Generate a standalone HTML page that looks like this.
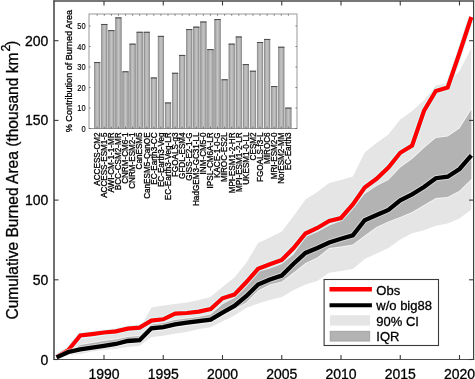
<!DOCTYPE html>
<html><head><meta charset="utf-8"><style>
html,body{margin:0;padding:0;background:#fff;}
svg{display:block;will-change:transform;}
text{font-family:"Liberation Sans",sans-serif;fill:#000;stroke:#000;stroke-width:0.3px;}
</style></head><body>
<svg width="475" height="379" viewBox="0 0 475 379">
<defs><linearGradient id="bg" x1="0" x2="1" y1="0" y2="0"><stop offset="0" stop-color="#959595"/><stop offset="0.25" stop-color="#b2b2b2"/><stop offset="0.5" stop-color="#c4c4c4"/><stop offset="0.75" stop-color="#b2b2b2"/><stop offset="1" stop-color="#959595"/></linearGradient></defs>
<defs><clipPath id="c"><rect x="54.0" y="1.0" width="419.6" height="358.5"/></clipPath></defs>
<g clip-path="url(#c)">
<polygon points="56.60,357.00 68.45,346.50 80.30,339.00 92.15,337.50 104.00,335.50 115.85,333.50 127.70,331.00 139.55,329.50 151.40,307.50 163.25,305.50 175.10,304.00 186.95,302.50 198.80,300.00 210.65,297.00 222.50,287.00 234.35,277.50 246.20,263.00 258.05,243.00 269.90,237.50 281.75,231.50 293.60,216.00 305.45,199.50 317.30,192.00 329.15,183.00 341.00,180.00 352.85,176.50 364.70,152.50 376.55,143.00 388.40,134.50 400.25,119.50 412.10,111.00 423.95,100.50 435.80,85.50 447.65,83.00 459.50,71.00 471.35,48.00 471.35,209.50 459.50,218.50 447.65,223.50 435.80,225.80 423.95,230.20 412.10,233.30 400.25,239.60 388.40,248.00 376.55,253.50 364.70,259.00 352.85,269.00 341.00,271.00 329.15,272.70 317.30,281.00 305.45,284.50 293.60,290.00 281.75,297.00 269.90,300.00 258.05,303.40 246.20,308.00 234.35,315.50 222.50,321.20 210.65,327.30 198.80,329.00 186.95,332.00 175.10,333.80 163.25,335.80 151.40,337.10 139.55,346.00 127.70,347.10 115.85,348.70 104.00,350.00 92.15,351.50 80.30,354.10 68.45,355.00 56.60,358.50" fill="#e5e5e5"/>
<polygon points="56.60,357.00 68.45,352.00 80.30,345.00 92.15,343.00 104.00,341.00 115.85,339.50 127.70,337.00 139.55,336.00 151.40,324.50 163.25,323.00 175.10,320.00 186.95,318.50 198.80,317.00 210.65,314.50 222.50,304.30 234.35,298.00 246.20,286.50 258.05,271.50 269.90,268.50 281.75,264.00 293.60,254.60 305.45,237.00 317.30,232.00 329.15,225.50 341.00,221.00 352.85,208.50 364.70,194.00 376.55,186.00 388.40,180.00 400.25,167.50 412.10,159.00 423.95,148.00 435.80,138.00 447.65,136.50 459.50,128.50 471.35,109.50 471.35,179.00 459.50,190.80 447.65,197.00 435.80,198.00 423.95,205.00 412.10,212.00 400.25,217.00 388.40,221.50 376.55,227.00 364.70,235.50 352.85,244.50 341.00,246.50 329.15,248.00 317.30,257.50 305.45,263.00 293.60,272.50 281.75,281.50 269.90,284.50 258.05,290.50 246.20,302.60 234.35,309.00 222.50,315.00 210.65,322.00 198.80,323.50 186.95,325.00 175.10,326.50 163.25,329.50 151.40,330.50 139.55,341.00 127.70,343.00 115.85,345.50 104.00,347.00 92.15,349.00 80.30,351.00 68.45,354.50 56.60,358.00" fill="none" stroke="#ffffff" stroke-opacity="0.6" stroke-width="1.8"/>
<polygon points="56.60,357.00 68.45,352.00 80.30,345.00 92.15,343.00 104.00,341.00 115.85,339.50 127.70,337.00 139.55,336.00 151.40,324.50 163.25,323.00 175.10,320.00 186.95,318.50 198.80,317.00 210.65,314.50 222.50,304.30 234.35,298.00 246.20,286.50 258.05,271.50 269.90,268.50 281.75,264.00 293.60,254.60 305.45,237.00 317.30,232.00 329.15,225.50 341.00,221.00 352.85,208.50 364.70,194.00 376.55,186.00 388.40,180.00 400.25,167.50 412.10,159.00 423.95,148.00 435.80,138.00 447.65,136.50 459.50,128.50 471.35,109.50 471.35,179.00 459.50,190.80 447.65,197.00 435.80,198.00 423.95,205.00 412.10,212.00 400.25,217.00 388.40,221.50 376.55,227.00 364.70,235.50 352.85,244.50 341.00,246.50 329.15,248.00 317.30,257.50 305.45,263.00 293.60,272.50 281.75,281.50 269.90,284.50 258.05,290.50 246.20,302.60 234.35,309.00 222.50,315.00 210.65,322.00 198.80,323.50 186.95,325.00 175.10,326.50 163.25,329.50 151.40,330.50 139.55,341.00 127.70,343.00 115.85,345.50 104.00,347.00 92.15,349.00 80.30,351.00 68.45,354.50 56.60,358.00" fill="#b3b3b3"/>
<polyline points="56.60,357.00 68.45,350.00 80.30,335.50 92.15,334.10 104.00,332.50 115.85,331.30 127.70,328.60 139.55,327.60 151.40,320.60 163.25,319.30 175.10,313.60 186.95,313.00 198.80,311.60 210.65,309.00 222.50,298.30 234.35,294.60 246.20,282.30 258.05,268.80 269.90,264.30 281.75,260.00 293.60,248.00 305.45,233.50 317.30,228.00 329.15,221.00 341.00,218.00 352.85,204.50 364.70,187.50 376.55,178.80 388.40,167.50 400.25,152.80 412.10,145.50 423.95,111.00 435.80,91.00 447.65,87.50 459.50,53.00 471.35,17.00" fill="none" stroke="#d4ffff" stroke-opacity="0.85" stroke-width="6.2" stroke-linejoin="miter"/>
<polyline points="56.60,357.00 68.45,350.00 80.30,335.50 92.15,334.10 104.00,332.50 115.85,331.30 127.70,328.60 139.55,327.60 151.40,320.60 163.25,319.30 175.10,313.60 186.95,313.00 198.80,311.60 210.65,309.00 222.50,298.30 234.35,294.60 246.20,282.30 258.05,268.80 269.90,264.30 281.75,260.00 293.60,248.00 305.45,233.50 317.30,228.00 329.15,221.00 341.00,218.00 352.85,204.50 364.70,187.50 376.55,178.80 388.40,167.50 400.25,152.80 412.10,145.50 423.95,111.00 435.80,91.00 447.65,87.50 459.50,53.00 471.35,17.00" fill="none" stroke="#ff0000" stroke-width="4.2" stroke-linejoin="miter"/>
<polyline points="56.60,357.40 68.45,352.00 80.30,349.40 92.15,347.70 104.00,345.80 115.85,344.00 127.70,341.00 139.55,340.20 151.40,328.30 163.25,327.20 175.10,324.40 186.95,322.70 198.80,321.20 210.65,319.60 222.50,312.70 234.35,305.90 246.20,296.20 258.05,284.50 269.90,279.50 281.75,275.50 293.60,263.70 305.45,252.90 317.30,248.00 329.15,242.50 341.00,238.70 352.85,235.30 364.70,220.20 376.55,215.00 388.40,209.90 400.25,200.30 412.10,194.30 423.95,187.00 435.80,178.20 447.65,176.70 459.50,169.00 471.35,155.40" fill="none" stroke="#ffffff" stroke-opacity="0.45" stroke-width="6.2" stroke-linejoin="miter"/>
<polyline points="56.60,357.40 68.45,352.00 80.30,349.40 92.15,347.70 104.00,345.80 115.85,344.00 127.70,341.00 139.55,340.20 151.40,328.30 163.25,327.20 175.10,324.40 186.95,322.70 198.80,321.20 210.65,319.60 222.50,312.70 234.35,305.90 246.20,296.20 258.05,284.50 269.90,279.50 281.75,275.50 293.60,263.70 305.45,252.90 317.30,248.00 329.15,242.50 341.00,238.70 352.85,235.30 364.70,220.20 376.55,215.00 388.40,209.90 400.25,200.30 412.10,194.30 423.95,187.00 435.80,178.20 447.65,176.70 459.50,169.00 471.35,155.40" fill="none" stroke="#000" stroke-width="4.3" stroke-linejoin="miter"/>
</g>
<line x1="54.0" y1="0.5" x2="54.0" y2="360.0" stroke="#404040" stroke-width="1.5"/>
<line x1="473.6" y1="0.5" x2="473.6" y2="360.0" stroke="#404040" stroke-width="1.2"/>
<line x1="53.3" y1="1.1" x2="474.20000000000005" y2="1.1" stroke="#4a4a4a" stroke-width="1.5"/>
<line x1="53.3" y1="359.5" x2="474.20000000000005" y2="359.5" stroke="#505050" stroke-width="1.0"/>
<line x1="104.00" y1="359.5" x2="104.00" y2="355.0" stroke="#3a3a3a" stroke-width="1.1"/>
<line x1="104.00" y1="1.0" x2="104.00" y2="5.5" stroke="#3a3a3a" stroke-width="1.1"/>
<text x="104.00" y="378.8" font-size="14" text-anchor="middle">1990</text>
<line x1="163.25" y1="359.5" x2="163.25" y2="355.0" stroke="#3a3a3a" stroke-width="1.1"/>
<line x1="163.25" y1="1.0" x2="163.25" y2="5.5" stroke="#3a3a3a" stroke-width="1.1"/>
<text x="163.25" y="378.8" font-size="14" text-anchor="middle">1995</text>
<line x1="222.50" y1="359.5" x2="222.50" y2="355.0" stroke="#3a3a3a" stroke-width="1.1"/>
<line x1="222.50" y1="1.0" x2="222.50" y2="5.5" stroke="#3a3a3a" stroke-width="1.1"/>
<text x="222.50" y="378.8" font-size="14" text-anchor="middle">2000</text>
<line x1="281.75" y1="359.5" x2="281.75" y2="355.0" stroke="#3a3a3a" stroke-width="1.1"/>
<line x1="281.75" y1="1.0" x2="281.75" y2="5.5" stroke="#3a3a3a" stroke-width="1.1"/>
<text x="281.75" y="378.8" font-size="14" text-anchor="middle">2005</text>
<line x1="341.00" y1="359.5" x2="341.00" y2="355.0" stroke="#3a3a3a" stroke-width="1.1"/>
<line x1="341.00" y1="1.0" x2="341.00" y2="5.5" stroke="#3a3a3a" stroke-width="1.1"/>
<text x="341.00" y="378.8" font-size="14" text-anchor="middle">2010</text>
<line x1="400.25" y1="359.5" x2="400.25" y2="355.0" stroke="#3a3a3a" stroke-width="1.1"/>
<line x1="400.25" y1="1.0" x2="400.25" y2="5.5" stroke="#3a3a3a" stroke-width="1.1"/>
<text x="400.25" y="378.8" font-size="14" text-anchor="middle">2015</text>
<line x1="459.50" y1="359.5" x2="459.50" y2="355.0" stroke="#3a3a3a" stroke-width="1.1"/>
<line x1="459.50" y1="1.0" x2="459.50" y2="5.5" stroke="#3a3a3a" stroke-width="1.1"/>
<text x="459.50" y="378.8" font-size="14" text-anchor="middle">2020</text>
<line x1="54.0" y1="359.50" x2="58.5" y2="359.50" stroke="#3a3a3a" stroke-width="1.1"/>
<line x1="473.6" y1="359.50" x2="469.1" y2="359.50" stroke="#3a3a3a" stroke-width="1.1"/>
<text x="48.3" y="364.50" font-size="14" text-anchor="end">0</text>
<line x1="54.0" y1="279.80" x2="58.5" y2="279.80" stroke="#3a3a3a" stroke-width="1.1"/>
<line x1="473.6" y1="279.80" x2="469.1" y2="279.80" stroke="#3a3a3a" stroke-width="1.1"/>
<text x="48.3" y="284.80" font-size="14" text-anchor="end">50</text>
<line x1="54.0" y1="200.10" x2="58.5" y2="200.10" stroke="#3a3a3a" stroke-width="1.1"/>
<line x1="473.6" y1="200.10" x2="469.1" y2="200.10" stroke="#3a3a3a" stroke-width="1.1"/>
<text x="48.3" y="205.10" font-size="14" text-anchor="end">100</text>
<line x1="54.0" y1="120.40" x2="58.5" y2="120.40" stroke="#3a3a3a" stroke-width="1.1"/>
<line x1="473.6" y1="120.40" x2="469.1" y2="120.40" stroke="#3a3a3a" stroke-width="1.1"/>
<text x="48.3" y="125.40" font-size="14" text-anchor="end">150</text>
<line x1="54.0" y1="40.70" x2="58.5" y2="40.70" stroke="#3a3a3a" stroke-width="1.1"/>
<line x1="473.6" y1="40.70" x2="469.1" y2="40.70" stroke="#3a3a3a" stroke-width="1.1"/>
<text x="48.3" y="45.70" font-size="14" text-anchor="end">200</text>
<text transform="translate(17.6,319.6) rotate(-90)" font-size="16.3" textLength="267" lengthAdjust="spacingAndGlyphs">Cumulative Burned Area (thousand km</text>
<text transform="translate(9.9,51.6) rotate(-90)" font-size="12.3">2</text>
<text transform="translate(16.8,46.1) rotate(-90)" font-size="16">)</text>
<rect x="324.1" y="279.5" width="114.39999999999998" height="66.0" fill="#fff" stroke="#3a3a3a" stroke-width="1.1"/>
<line x1="329.5" y1="289.3" x2="371.9" y2="289.3" stroke="#ff0000" stroke-width="4.4"/>
<line x1="329.5" y1="305.2" x2="371.9" y2="305.2" stroke="#000" stroke-width="4.0"/>
<rect x="329.9" y="315.2" width="40.1" height="10.4" fill="#e5e5e5"/>
<rect x="330.1" y="331.2" width="39.7" height="9.9" fill="#b3b3b3" stroke="#9a9a9a" stroke-width="0.7"/>
<text x="376.3" y="294.60" font-size="13">Obs</text>
<text x="376.3" y="310.20" font-size="13">w/o big88</text>
<text x="376.3" y="325.80" font-size="13">90% CI</text>
<text x="376.3" y="341.40" font-size="13">IQR</text>
<rect x="89.0" y="14.0" width="208.0" height="114.5" fill="#fff" stroke="#8f8f8f" stroke-width="0.9"/>
<rect x="94.40" y="62.49" width="5.6" height="66.01" fill="url(#bg)" stroke="#7a7a7a" stroke-width="0.6"/>
<line x1="94.10" y1="62.59" x2="100.30" y2="62.59" stroke="#4a4a4a" stroke-width="1"/>
<line x1="97.20" y1="14.0" x2="97.20" y2="15.8" stroke="#555" stroke-width="0.7"/>
<line x1="97.20" y1="128.5" x2="97.20" y2="126.7" stroke="#555" stroke-width="0.7"/>
<text transform="translate(100.00,132.4) rotate(-90)" font-size="8.15" text-anchor="end">ACCESS-CM2</text>
<rect x="101.48" y="24.36" width="5.6" height="104.14" fill="url(#bg)" stroke="#7a7a7a" stroke-width="0.6"/>
<line x1="101.18" y1="24.46" x2="107.38" y2="24.46" stroke="#4a4a4a" stroke-width="1"/>
<line x1="104.28" y1="14.0" x2="104.28" y2="15.8" stroke="#555" stroke-width="0.7"/>
<line x1="104.28" y1="128.5" x2="104.28" y2="126.7" stroke="#555" stroke-width="0.7"/>
<text transform="translate(107.08,132.4) rotate(-90)" font-size="8.15" text-anchor="end">ACCESS-ESM1-5</text>
<rect x="108.56" y="30.51" width="5.6" height="97.99" fill="url(#bg)" stroke="#7a7a7a" stroke-width="0.6"/>
<line x1="108.26" y1="30.61" x2="114.46" y2="30.61" stroke="#4a4a4a" stroke-width="1"/>
<line x1="111.36" y1="14.0" x2="111.36" y2="15.8" stroke="#555" stroke-width="0.7"/>
<line x1="111.36" y1="128.5" x2="111.36" y2="126.7" stroke="#555" stroke-width="0.7"/>
<text transform="translate(114.16,132.4) rotate(-90)" font-size="8.15" text-anchor="end">AWI-CM-1-1-MR</text>
<rect x="115.64" y="17.80" width="5.6" height="110.70" fill="url(#bg)" stroke="#7a7a7a" stroke-width="0.6"/>
<line x1="115.34" y1="17.90" x2="121.54" y2="17.90" stroke="#4a4a4a" stroke-width="1"/>
<line x1="118.44" y1="14.0" x2="118.44" y2="15.8" stroke="#555" stroke-width="0.7"/>
<line x1="118.44" y1="128.5" x2="118.44" y2="126.7" stroke="#555" stroke-width="0.7"/>
<text transform="translate(121.24,132.4) rotate(-90)" font-size="8.15" text-anchor="end">BCC-CSM2-MR</text>
<rect x="122.72" y="71.72" width="5.6" height="56.78" fill="url(#bg)" stroke="#7a7a7a" stroke-width="0.6"/>
<line x1="122.42" y1="71.81" x2="128.62" y2="71.81" stroke="#4a4a4a" stroke-width="1"/>
<line x1="125.52" y1="14.0" x2="125.52" y2="15.8" stroke="#555" stroke-width="0.7"/>
<line x1="125.52" y1="128.5" x2="125.52" y2="126.7" stroke="#555" stroke-width="0.7"/>
<text transform="translate(128.32,132.4) rotate(-90)" font-size="8.15" text-anchor="end">CNRM-CM6-1</text>
<rect x="129.80" y="44.04" width="5.6" height="84.46" fill="url(#bg)" stroke="#7a7a7a" stroke-width="0.6"/>
<line x1="129.50" y1="44.14" x2="135.70" y2="44.14" stroke="#4a4a4a" stroke-width="1"/>
<line x1="132.60" y1="14.0" x2="132.60" y2="15.8" stroke="#555" stroke-width="0.7"/>
<line x1="132.60" y1="128.5" x2="132.60" y2="126.7" stroke="#555" stroke-width="0.7"/>
<text transform="translate(135.40,132.4) rotate(-90)" font-size="8.15" text-anchor="end">CNRM-ESM2-1</text>
<rect x="136.88" y="32.15" width="5.6" height="96.35" fill="url(#bg)" stroke="#7a7a7a" stroke-width="0.6"/>
<line x1="136.58" y1="32.25" x2="142.78" y2="32.25" stroke="#4a4a4a" stroke-width="1"/>
<line x1="139.68" y1="14.0" x2="139.68" y2="15.8" stroke="#555" stroke-width="0.7"/>
<line x1="139.68" y1="128.5" x2="139.68" y2="126.7" stroke="#555" stroke-width="0.7"/>
<text transform="translate(142.48,132.4) rotate(-90)" font-size="8.15" text-anchor="end">CanESM5</text>
<rect x="143.96" y="32.15" width="5.6" height="96.35" fill="url(#bg)" stroke="#7a7a7a" stroke-width="0.6"/>
<line x1="143.66" y1="32.25" x2="149.86" y2="32.25" stroke="#4a4a4a" stroke-width="1"/>
<line x1="146.76" y1="14.0" x2="146.76" y2="15.8" stroke="#555" stroke-width="0.7"/>
<line x1="146.76" y1="128.5" x2="146.76" y2="126.7" stroke="#555" stroke-width="0.7"/>
<text transform="translate(149.56,132.4) rotate(-90)" font-size="8.15" text-anchor="end">CanESM5-CanOE</text>
<rect x="151.04" y="77.87" width="5.6" height="50.63" fill="url(#bg)" stroke="#7a7a7a" stroke-width="0.6"/>
<line x1="150.74" y1="77.97" x2="156.94" y2="77.97" stroke="#4a4a4a" stroke-width="1"/>
<line x1="153.84" y1="14.0" x2="153.84" y2="15.8" stroke="#555" stroke-width="0.7"/>
<line x1="153.84" y1="128.5" x2="153.84" y2="126.7" stroke="#555" stroke-width="0.7"/>
<text transform="translate(156.64,132.4) rotate(-90)" font-size="8.15" text-anchor="end">EC-Earth3-CC</text>
<rect x="158.12" y="36.25" width="5.6" height="92.25" fill="url(#bg)" stroke="#7a7a7a" stroke-width="0.6"/>
<line x1="157.82" y1="36.35" x2="164.02" y2="36.35" stroke="#4a4a4a" stroke-width="1"/>
<line x1="160.92" y1="14.0" x2="160.92" y2="15.8" stroke="#555" stroke-width="0.7"/>
<line x1="160.92" y1="128.5" x2="160.92" y2="126.7" stroke="#555" stroke-width="0.7"/>
<text transform="translate(163.72,132.4) rotate(-90)" font-size="8.15" text-anchor="end">EC-Earth3-Veg</text>
<rect x="165.20" y="102.88" width="5.6" height="25.62" fill="url(#bg)" stroke="#7a7a7a" stroke-width="0.6"/>
<line x1="164.90" y1="102.97" x2="171.10" y2="102.97" stroke="#4a4a4a" stroke-width="1"/>
<line x1="168.00" y1="14.0" x2="168.00" y2="15.8" stroke="#555" stroke-width="0.7"/>
<line x1="168.00" y1="128.5" x2="168.00" y2="126.7" stroke="#555" stroke-width="0.7"/>
<text transform="translate(170.80,132.4) rotate(-90)" font-size="8.15" text-anchor="end">EC-Earth3-Veg-LR</text>
<rect x="172.28" y="73.15" width="5.6" height="55.35" fill="url(#bg)" stroke="#7a7a7a" stroke-width="0.6"/>
<line x1="171.98" y1="73.25" x2="178.18" y2="73.25" stroke="#4a4a4a" stroke-width="1"/>
<line x1="175.08" y1="14.0" x2="175.08" y2="15.8" stroke="#555" stroke-width="0.7"/>
<line x1="175.08" y1="128.5" x2="175.08" y2="126.7" stroke="#555" stroke-width="0.7"/>
<text transform="translate(177.88,132.4) rotate(-90)" font-size="8.15" text-anchor="end">FGOALS-g3</text>
<rect x="179.36" y="55.31" width="5.6" height="73.19" fill="url(#bg)" stroke="#7a7a7a" stroke-width="0.6"/>
<line x1="179.06" y1="55.41" x2="185.26" y2="55.41" stroke="#4a4a4a" stroke-width="1"/>
<line x1="182.16" y1="14.0" x2="182.16" y2="15.8" stroke="#555" stroke-width="0.7"/>
<line x1="182.16" y1="128.5" x2="182.16" y2="126.7" stroke="#555" stroke-width="0.7"/>
<text transform="translate(184.96,132.4) rotate(-90)" font-size="8.15" text-anchor="end">GFDL-ESM4</text>
<rect x="186.44" y="29.49" width="5.6" height="99.01" fill="url(#bg)" stroke="#7a7a7a" stroke-width="0.6"/>
<line x1="186.14" y1="29.59" x2="192.34" y2="29.59" stroke="#4a4a4a" stroke-width="1"/>
<line x1="189.24" y1="14.0" x2="189.24" y2="15.8" stroke="#555" stroke-width="0.7"/>
<line x1="189.24" y1="128.5" x2="189.24" y2="126.7" stroke="#555" stroke-width="0.7"/>
<text transform="translate(192.04,132.4) rotate(-90)" font-size="8.15" text-anchor="end">GISS-E2-1-G</text>
<rect x="193.52" y="27.03" width="5.6" height="101.47" fill="url(#bg)" stroke="#7a7a7a" stroke-width="0.6"/>
<line x1="193.22" y1="27.13" x2="199.42" y2="27.13" stroke="#4a4a4a" stroke-width="1"/>
<line x1="196.32" y1="14.0" x2="196.32" y2="15.8" stroke="#555" stroke-width="0.7"/>
<line x1="196.32" y1="128.5" x2="196.32" y2="126.7" stroke="#555" stroke-width="0.7"/>
<text transform="translate(199.12,132.4) rotate(-90)" font-size="8.15" text-anchor="end">HadGEM3-GC31-LL</text>
<rect x="200.60" y="21.90" width="5.6" height="106.60" fill="url(#bg)" stroke="#7a7a7a" stroke-width="0.6"/>
<line x1="200.30" y1="22.00" x2="206.50" y2="22.00" stroke="#4a4a4a" stroke-width="1"/>
<line x1="203.40" y1="14.0" x2="203.40" y2="15.8" stroke="#555" stroke-width="0.7"/>
<line x1="203.40" y1="128.5" x2="203.40" y2="126.7" stroke="#555" stroke-width="0.7"/>
<text transform="translate(206.20,132.4) rotate(-90)" font-size="8.15" text-anchor="end">INM-CM5-0</text>
<rect x="207.68" y="49.58" width="5.6" height="78.92" fill="url(#bg)" stroke="#7a7a7a" stroke-width="0.6"/>
<line x1="207.38" y1="49.68" x2="213.58" y2="49.68" stroke="#4a4a4a" stroke-width="1"/>
<line x1="210.48" y1="14.0" x2="210.48" y2="15.8" stroke="#555" stroke-width="0.7"/>
<line x1="210.48" y1="128.5" x2="210.48" y2="126.7" stroke="#555" stroke-width="0.7"/>
<text transform="translate(213.28,132.4) rotate(-90)" font-size="8.15" text-anchor="end">IPSL-CM6A-LR</text>
<rect x="214.76" y="19.44" width="5.6" height="109.06" fill="url(#bg)" stroke="#7a7a7a" stroke-width="0.6"/>
<line x1="214.46" y1="19.54" x2="220.66" y2="19.54" stroke="#4a4a4a" stroke-width="1"/>
<line x1="217.56" y1="14.0" x2="217.56" y2="15.8" stroke="#555" stroke-width="0.7"/>
<line x1="217.56" y1="128.5" x2="217.56" y2="126.7" stroke="#555" stroke-width="0.7"/>
<text transform="translate(220.36,132.4) rotate(-90)" font-size="8.15" text-anchor="end">KACE-1-0-G</text>
<rect x="221.84" y="79.71" width="5.6" height="48.79" fill="url(#bg)" stroke="#7a7a7a" stroke-width="0.6"/>
<line x1="221.54" y1="79.81" x2="227.74" y2="79.81" stroke="#4a4a4a" stroke-width="1"/>
<line x1="224.64" y1="14.0" x2="224.64" y2="15.8" stroke="#555" stroke-width="0.7"/>
<line x1="224.64" y1="128.5" x2="224.64" y2="126.7" stroke="#555" stroke-width="0.7"/>
<text transform="translate(227.44,132.4) rotate(-90)" font-size="8.15" text-anchor="end">MIROC-ES2L</text>
<rect x="228.92" y="44.04" width="5.6" height="84.46" fill="url(#bg)" stroke="#7a7a7a" stroke-width="0.6"/>
<line x1="228.62" y1="44.14" x2="234.82" y2="44.14" stroke="#4a4a4a" stroke-width="1"/>
<line x1="231.72" y1="14.0" x2="231.72" y2="15.8" stroke="#555" stroke-width="0.7"/>
<line x1="231.72" y1="128.5" x2="231.72" y2="126.7" stroke="#555" stroke-width="0.7"/>
<text transform="translate(234.52,132.4) rotate(-90)" font-size="8.15" text-anchor="end">MPI-ESM1-2-HR</text>
<rect x="236.00" y="36.87" width="5.6" height="91.63" fill="url(#bg)" stroke="#7a7a7a" stroke-width="0.6"/>
<line x1="235.70" y1="36.97" x2="241.90" y2="36.97" stroke="#4a4a4a" stroke-width="1"/>
<line x1="238.80" y1="14.0" x2="238.80" y2="15.8" stroke="#555" stroke-width="0.7"/>
<line x1="238.80" y1="128.5" x2="238.80" y2="126.7" stroke="#555" stroke-width="0.7"/>
<text transform="translate(241.60,132.4) rotate(-90)" font-size="8.15" text-anchor="end">MPI-ESM1-2-LR</text>
<rect x="243.08" y="64.54" width="5.6" height="63.96" fill="url(#bg)" stroke="#7a7a7a" stroke-width="0.6"/>
<line x1="242.78" y1="64.64" x2="248.98" y2="64.64" stroke="#4a4a4a" stroke-width="1"/>
<line x1="245.88" y1="14.0" x2="245.88" y2="15.8" stroke="#555" stroke-width="0.7"/>
<line x1="245.88" y1="128.5" x2="245.88" y2="126.7" stroke="#555" stroke-width="0.7"/>
<text transform="translate(248.68,132.4) rotate(-90)" font-size="8.15" text-anchor="end">UKESM1-0-LL</text>
<rect x="250.16" y="71.10" width="5.6" height="57.40" fill="url(#bg)" stroke="#7a7a7a" stroke-width="0.6"/>
<line x1="249.86" y1="71.20" x2="256.06" y2="71.20" stroke="#4a4a4a" stroke-width="1"/>
<line x1="252.96" y1="14.0" x2="252.96" y2="15.8" stroke="#555" stroke-width="0.7"/>
<line x1="252.96" y1="128.5" x2="252.96" y2="126.7" stroke="#555" stroke-width="0.7"/>
<text transform="translate(255.76,132.4) rotate(-90)" font-size="8.15" text-anchor="end">CESM2</text>
<rect x="257.24" y="42.40" width="5.6" height="86.10" fill="url(#bg)" stroke="#7a7a7a" stroke-width="0.6"/>
<line x1="256.94" y1="42.50" x2="263.14" y2="42.50" stroke="#4a4a4a" stroke-width="1"/>
<line x1="260.04" y1="14.0" x2="260.04" y2="15.8" stroke="#555" stroke-width="0.7"/>
<line x1="260.04" y1="128.5" x2="260.04" y2="126.7" stroke="#555" stroke-width="0.7"/>
<text transform="translate(262.84,132.4) rotate(-90)" font-size="8.15" text-anchor="end">FGOALS-f3-L</text>
<rect x="264.32" y="39.33" width="5.6" height="89.17" fill="url(#bg)" stroke="#7a7a7a" stroke-width="0.6"/>
<line x1="264.02" y1="39.43" x2="270.22" y2="39.43" stroke="#4a4a4a" stroke-width="1"/>
<line x1="267.12" y1="14.0" x2="267.12" y2="15.8" stroke="#555" stroke-width="0.7"/>
<line x1="267.12" y1="128.5" x2="267.12" y2="126.7" stroke="#555" stroke-width="0.7"/>
<text transform="translate(269.92,132.4) rotate(-90)" font-size="8.15" text-anchor="end">MIROC6</text>
<rect x="271.40" y="86.47" width="5.6" height="42.02" fill="url(#bg)" stroke="#7a7a7a" stroke-width="0.6"/>
<line x1="271.10" y1="86.57" x2="277.30" y2="86.57" stroke="#4a4a4a" stroke-width="1"/>
<line x1="274.20" y1="14.0" x2="274.20" y2="15.8" stroke="#555" stroke-width="0.7"/>
<line x1="274.20" y1="128.5" x2="274.20" y2="126.7" stroke="#555" stroke-width="0.7"/>
<text transform="translate(277.00,132.4) rotate(-90)" font-size="8.15" text-anchor="end">MRI-ESM2-0</text>
<rect x="278.48" y="47.11" width="5.6" height="81.39" fill="url(#bg)" stroke="#7a7a7a" stroke-width="0.6"/>
<line x1="278.18" y1="47.21" x2="284.38" y2="47.21" stroke="#4a4a4a" stroke-width="1"/>
<line x1="281.28" y1="14.0" x2="281.28" y2="15.8" stroke="#555" stroke-width="0.7"/>
<line x1="281.28" y1="128.5" x2="281.28" y2="126.7" stroke="#555" stroke-width="0.7"/>
<text transform="translate(284.08,132.4) rotate(-90)" font-size="8.15" text-anchor="end">NorESM2-MM</text>
<rect x="285.56" y="108.00" width="5.6" height="20.50" fill="url(#bg)" stroke="#7a7a7a" stroke-width="0.6"/>
<line x1="285.26" y1="108.10" x2="291.46" y2="108.10" stroke="#4a4a4a" stroke-width="1"/>
<line x1="288.36" y1="14.0" x2="288.36" y2="15.8" stroke="#555" stroke-width="0.7"/>
<line x1="288.36" y1="128.5" x2="288.36" y2="126.7" stroke="#555" stroke-width="0.7"/>
<text transform="translate(291.16,132.4) rotate(-90)" font-size="8.15" text-anchor="end">EC-Earth3</text>
<line x1="89.0" y1="128.50" x2="90.6" y2="128.50" stroke="#555" stroke-width="0.7"/>
<line x1="297.0" y1="128.50" x2="295.4" y2="128.50" stroke="#555" stroke-width="0.7"/>
<text x="85.6" y="131.50" font-size="8.4" text-anchor="end" textLength="4.2" lengthAdjust="spacingAndGlyphs" style="stroke-width:0.15px">0</text>
<line x1="89.0" y1="108.00" x2="90.6" y2="108.00" stroke="#555" stroke-width="0.7"/>
<line x1="297.0" y1="108.00" x2="295.4" y2="108.00" stroke="#555" stroke-width="0.7"/>
<text x="85.6" y="111.00" font-size="8.4" text-anchor="end" textLength="8.3" lengthAdjust="spacingAndGlyphs" style="stroke-width:0.15px">10</text>
<line x1="89.0" y1="87.50" x2="90.6" y2="87.50" stroke="#555" stroke-width="0.7"/>
<line x1="297.0" y1="87.50" x2="295.4" y2="87.50" stroke="#555" stroke-width="0.7"/>
<text x="85.6" y="90.50" font-size="8.4" text-anchor="end" textLength="8.3" lengthAdjust="spacingAndGlyphs" style="stroke-width:0.15px">20</text>
<line x1="89.0" y1="67.00" x2="90.6" y2="67.00" stroke="#555" stroke-width="0.7"/>
<line x1="297.0" y1="67.00" x2="295.4" y2="67.00" stroke="#555" stroke-width="0.7"/>
<text x="85.6" y="70.00" font-size="8.4" text-anchor="end" textLength="8.3" lengthAdjust="spacingAndGlyphs" style="stroke-width:0.15px">30</text>
<line x1="89.0" y1="46.50" x2="90.6" y2="46.50" stroke="#555" stroke-width="0.7"/>
<line x1="297.0" y1="46.50" x2="295.4" y2="46.50" stroke="#555" stroke-width="0.7"/>
<text x="85.6" y="49.50" font-size="8.4" text-anchor="end" textLength="8.3" lengthAdjust="spacingAndGlyphs" style="stroke-width:0.15px">40</text>
<line x1="89.0" y1="26.00" x2="90.6" y2="26.00" stroke="#555" stroke-width="0.7"/>
<line x1="297.0" y1="26.00" x2="295.4" y2="26.00" stroke="#555" stroke-width="0.7"/>
<text x="85.6" y="29.00" font-size="8.4" text-anchor="end" textLength="8.3" lengthAdjust="spacingAndGlyphs" style="stroke-width:0.15px">50</text>
<text transform="translate(72.0,132.2) rotate(-90)" font-size="8.8" textLength="122.3" lengthAdjust="spacingAndGlyphs">% Contribution of Burned Area</text>
</svg>
</body></html>
